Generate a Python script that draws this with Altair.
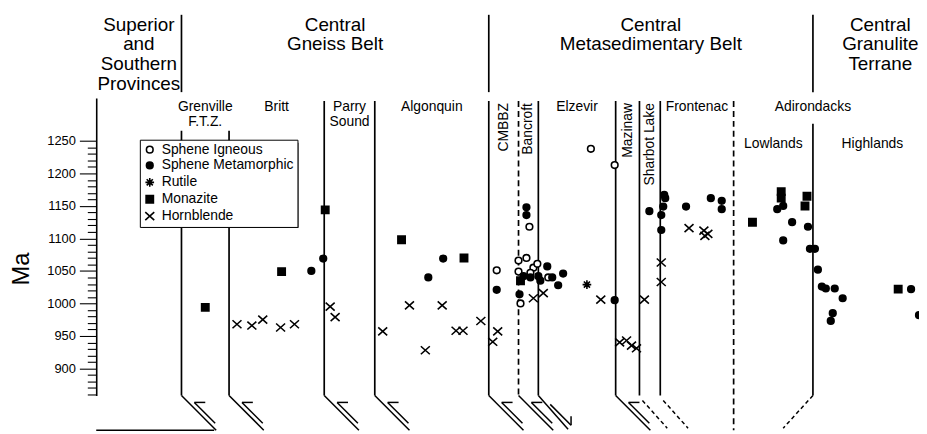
import altair as alt
import pandas as pd

FONT = "Liberation Sans"

# ---------------- data (position along transect, age in Ma) ----------------
minerals = ["Sphene Igneous", "Sphene Metamorphic", "Rutile", "Monazite", "Hornblende"]

sph_ign_pos = [501, 523, 531, 523, 538, 542, 535, 553, 525, 534, 596, 620]
sph_ign_ma = [1051, 1066, 1070, 1049, 1055, 1061, 1047, 1040, 1000, 1118, 1238, 1213]

sph_met_pos = [314, 326, 432, 447, 501, 531, 531, 524, 528, 535, 543, 545, 552, 557, 563, 568,
               620, 655, 670, 671, 669, 667, 667, 692, 717, 728, 728, 784, 790, 799, 815, 790,
               817, 822, 825, 829, 833, 842, 850, 840, 838, 919, 927]
sph_met_ma = [1050, 1069, 1040, 1069, 1021, 1148, 1136, 1014, 1042, 1040, 1042, 1035, 1057, 1040, 1028, 1046,
              1005, 1142, 1167, 1162, 1149, 1136, 1113, 1149, 1162, 1158, 1145, 1145, 1150, 1125, 1118, 1097,
              1084, 1084, 1052, 1026, 1023, 1023, 1008, 985, 973, 1022, 982]

rutile_pos = [592]
rutile_ma = [1029]

monazite_pos = [207, 284, 328, 405, 468, 525, 759, 788, 788, 814, 812, 906]
monazite_ma = [994, 1049, 1144, 1098, 1070, 1035, 1125, 1172, 1162, 1165, 1150, 1022]

hbl_pos = [239, 254, 265, 283, 297, 333, 338, 386, 413, 446, 429, 460, 467, 485, 497, 502,
           538, 548, 606, 625, 632, 637, 642, 650, 667, 667, 695, 710, 714, 711]
hbl_ma = [968, 966, 975, 963, 968, 995, 979, 957, 997, 997, 928, 958, 958, 973, 941, 957,
          1008, 1016, 1006, 940, 943, 935, 931, 1006, 1063, 1033, 1116, 1112, 1107, 1104]

# belt boundaries and belt names
belt_edges = [97, 183, 493, 820, 956]
belt_names = ["Superior\nand\nSouthern\nProvinces", "Central\nGneiss Belt",
              "Central\nMetasedimentary Belt", "Central\nGranulite\nTerrane"]

# domain boundaries along the section
dom_edges = [183, 231, 327, 378, 493, 523, 543, 621, 645, 666, 740, 820, 940]
dom_names = ["Grenville\nF.T.Z.", "Britt", "Parry\nSound", "Algonquin", "CMBBZ", "Bancroft",
             "Elzevir", "Mazinaw", "Sharbot Lake", "Frontenac", "Lowlands", "Highlands"]

# shear sense at boundaries
thrust_bounds = [183, 231, 327, 378, 493, 523, 621]
normal_bounds = [543]
dashed_se_bounds = [645, 666]
dashed_sw_bounds = [820]

axis_ticks = list(range(860, 1251, 10))

# ---------------- tables ----------------
rows = []
for name, ps, ms in [
    ("Sphene Igneous", sph_ign_pos, sph_ign_ma),
    ("Sphene Metamorphic", sph_met_pos, sph_met_ma),
    ("Rutile", rutile_pos, rutile_ma),
    ("Monazite", monazite_pos, monazite_ma),
    ("Hornblende", hbl_pos, hbl_ma),
]:
    for p, m in zip(ps, ms):
        rows.append({"pos": p, "ma": m, "mineral": name})
pts = pd.DataFrame(rows)

mid = lambda a, b: (a + b) / 2
belt_df = pd.DataFrame({"name": belt_names,
                        "pos": [mid(belt_edges[i], belt_edges[i + 1]) for i in range(len(belt_names))]})
dom_mid = {n: mid(dom_edges[i], dom_edges[i + 1]) for i, n in enumerate(dom_names)}
top_names = ["Grenville\nF.T.Z.", "Britt", "Parry\nSound", "Algonquin", "Elzevir", "Frontenac"]
top_df = pd.DataFrame({"name": top_names + ["Adirondacks"],
                       "pos": [dom_mid[n] for n in top_names] + [dom_edges[11]]})
vert_names = ["CMBBZ", "Bancroft", "Mazinaw", "Sharbot Lake"]
vert_df = pd.DataFrame({"name": vert_names, "pos": [dom_mid[n] for n in vert_names]})
low_df = pd.DataFrame({"name": ["Lowlands", "Highlands"],
                       "pos": [dom_mid["Lowlands"], dom_mid["Highlands"]]})

solid_df = pd.DataFrame({"pos": [327, 378, 493, 543, 621, 645, 666]})
ftz_df = pd.DataFrame({"pos": [183, 231]})
lh_df = pd.DataFrame({"pos": [820]})
dash1_df = pd.DataFrame({"pos": [523]})
dash2_df = pd.DataFrame({"pos": [740]})
beltline_df = pd.DataFrame({"pos": belt_edges[1:4]})
thr_df = pd.DataFrame({"pos": thrust_bounds})
nor_df = pd.DataFrame({"pos": normal_bounds})
dse_df = pd.DataFrame({"pos": dashed_se_bounds})
dsw_df = pd.DataFrame({"pos": dashed_sw_bounds})
one = pd.DataFrame({"a": [0]})

# ---------------- scales ----------------
xs = alt.Scale(domain=[97, 927], nice=False, zero=False)
ys = alt.Scale(domain=[858.4, 1316], nice=False, zero=False)
X = lambda: alt.X("pos:Q", scale=xs, axis=None)
X2 = lambda: alt.X2("pos")

def vline(df, top, bottom, dash=None):
    kw = dict(color="black", strokeWidth=1.7)
    if dash:
        kw["strokeDash"] = dash
    return alt.Chart(df).mark_rule(**kw).encode(x=X(), y=alt.value(top), y2=alt.value(bottom))

def seg(df, xo, x2o, y, y2, dash=None, sw=1.5):
    kw = dict(color="black", strokeWidth=sw, xOffset=xo, x2Offset=x2o)
    if dash:
        kw["strokeDash"] = dash
    return alt.Chart(df).mark_rule(**kw).encode(x=X(), x2=X2(), y=alt.value(y), y2=alt.value(y2))

layers = [
    vline(solid_df, 3, 300),
    vline(ftz_df, 33, 300),
    vline(lh_df, 26, 300),
    vline(dash1_df, 3, 300, [6, 4]),
    vline(dash2_df, 3, 335, [6, 4]),
    vline(beltline_df, -84, -6),
    # thrust (top-to-NW) half arrows
    seg(thr_df, 0, 35, 300, 335),
    seg(thr_df, 13, 34, 307, 328),
    seg(thr_df, 13, 24, 307, 307),
    # normal sense
    seg(nor_df, 0, 30, 300, 334),
    seg(nor_df, 12, 33, 309, 330),
    seg(nor_df, 33, 33, 321, 330),
    # dashed traces
    seg(dse_df, 3, 28, 305, 333, [4, 3]),
    seg(dsw_df, 0, -30, 300, 333, [4, 3]),
    alt.Chart(one).mark_rule(color="black", strokeWidth=1.5).encode(
        x=alt.value(0), x2=alt.value(119), y=alt.value(335)),
    # legend shadow
    alt.Chart(one).mark_rect(color="black").encode(
        x=alt.value(47), x2=alt.value(204), y=alt.value(45), y2=alt.value(131)),
]

shapes = ["circle", "circle",
          "M0,-1.3L0,1.3M-1.3,0L1.3,0M-0.92,-0.92L0.92,0.92M-0.92,0.92L0.92,-0.92",
          "M-1.1,-1.1L1.1,-1.1L1.1,1.1L-1.1,1.1Z",
          "M-1.35,-1.2L1.35,1.2M-1.35,1.2L1.35,-1.2"]
fills = ["white", "black", "black", "black", "black"]
strokes = ["black"] * 5

leg = alt.Legend(title=None, orient="none", legendX=44, legendY=42, fillColor="white",
                 strokeColor="black", padding=3, rowPadding=2,
                 labelFontSize=14, labelFont=FONT, labelColor="black", symbolSize=45,
                 symbolStrokeWidth=1.6, symbolStrokeColor="black", labelOffset=5,
                 labelLimit=300, zindex=1)

y_axis = alt.Axis(orient="left", values=axis_ticks, format="d",
                  labelExpr="datum.value % 50 === 0 ? datum.label : ''",
                  tickSize={"condition": {"test": "datum.value % 50 === 0", "value": 17}, "value": 9},
                  tickWidth=1.1, tickColor="black", domainColor="black", domainWidth=1.6,
                  labelFontSize=13, labelColor="black", labelPadding=4, labelFont=FONT,
                  title="Ma", titleFontSize=24, titleFontWeight="normal", titleColor="black",
                  titleFont=FONT, titleX=-75, titleY=172, titleAngle=270, titleAlign="center",
                  titleBaseline="middle", grid=False, labelFlush=False, labelOverlap=False)

points = alt.Chart(pts).mark_point(filled=True, strokeWidth=1.6, size=45, opacity=1).encode(
    x=alt.X("pos:Q", scale=xs, axis=alt.Axis(orient="bottom", labels=False, ticks=False, title=None,
                                             domainColor="black", domainWidth=1.6, grid=False)),
    y=alt.Y("ma:Q", scale=ys, axis=y_axis),
    shape=alt.Shape("mineral:N", scale=alt.Scale(domain=minerals, range=shapes), legend=leg),
    fill=alt.Fill("mineral:N", scale=alt.Scale(domain=minerals, range=fills), legend=leg),
    stroke=alt.Stroke("mineral:N", scale=alt.Scale(domain=minerals, range=strokes), legend=leg),
)

txt = dict(font=FONT, color="black", lineBreak="\n")
belts = alt.Chart(belt_df).mark_text(fontSize=19, lineHeight=20, baseline="top", align="center", **txt).encode(
    x=X(), y=alt.value(-83), text="name:N")
tops = alt.Chart(top_df).mark_text(fontSize=14, lineHeight=15, baseline="top", align="center", **txt).encode(
    x=X(), y=alt.value(2), text="name:N")
verts = alt.Chart(vert_df).mark_text(fontSize=14, angle=270, baseline="middle", align="right", **txt).encode(
    x=X(), y=alt.value(5), text="name:N")
lows = alt.Chart(low_df).mark_text(fontSize=14, baseline="top", align="center", **txt).encode(
    x=X(), y=alt.value(39), text="name:N")

chart = alt.layer(*layers, points, belts, tops, verts, lows).properties(
    width=830, height=300,
    padding={"left": 89, "top": 89, "right": 0, "bottom": 37},
    autosize=alt.AutoSizeParams(type="none"),
    background="white",
).configure_view(stroke=None)

chart.save("out.html", embed_options={"renderer": "svg", "actions": False})
